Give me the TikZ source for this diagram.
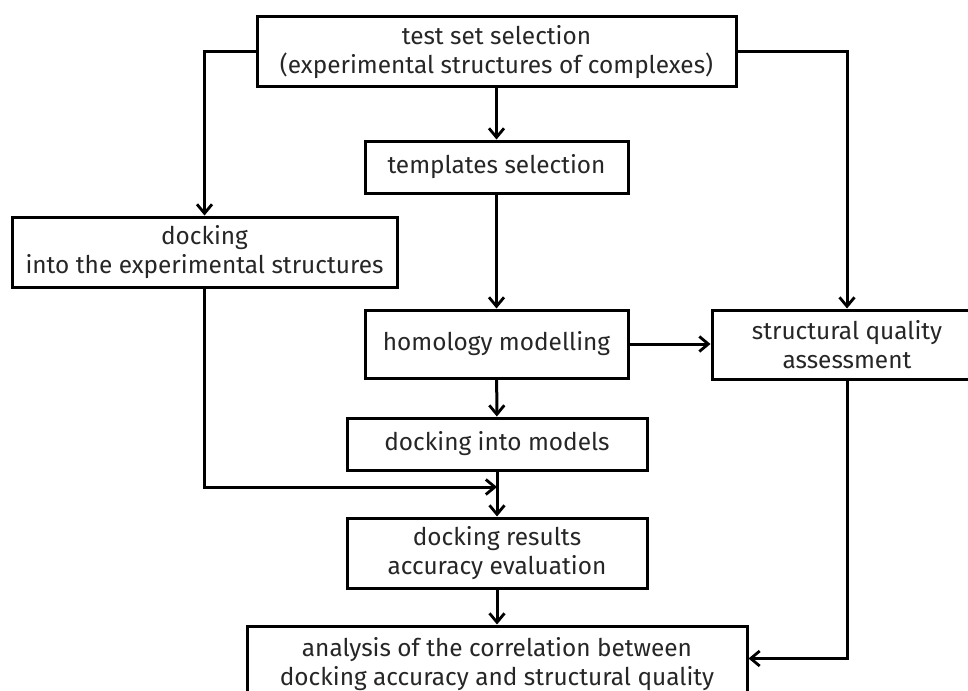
\documentclass[tikz,border=0pt]{standalone}
\usepackage{fontspec}
\setmainfont{Fira Sans}
\usetikzlibrary{arrows.meta}
\begin{document}
\begin{tikzpicture}[x=1pt,y=-1pt,
  box/.style={draw, line width=3pt, rectangle, align=center, inner sep=0pt,
    font=\fontsize{24.4}{29}\selectfont, text=black!85},
  flow/.style={line width=3pt, -{Straight Barb[length=9pt,width=15pt,line width=2.8pt]}}]
\useasboundingbox (0,0) rectangle (968,690);
\begin{scope}
\clip (0,0) rectangle (968,690);
\node[box, minimum width=479pt, minimum height=70pt] (top) at (496.5,52)
  {test set selection\\(experimental structures of complexes)};
\node[box, minimum width=263pt, minimum height=52pt] (tmpl) at (496.5,167)
  {templates selection};
\node[box, minimum width=385pt, minimum height=70pt] (dexp) at (204.5,252)
  {docking\\into the experimental structures};
\node[box, minimum width=263pt, minimum height=68pt] (hom) at (496.5,344)
  {homology modelling};
\node[box, minimum width=270pt, minimum height=69pt] (sq) at (847,344.5)
  {structural quality\\assessment};
\node[box, minimum width=300pt, minimum height=52pt] (dm) at (497,444)
  {docking into models};
\node[box, minimum width=300pt, minimum height=70pt] (dr) at (497,553)
  {docking results\\accuracy evaluation};
\node[box, minimum width=500pt, minimum height=76pt] (an) at (497,664)
  {analysis of the correlation between\\docking accuracy and structural quality};
\end{scope}
\coordinate (merge) at (497,487);
\coordinate (anin) at ([yshift=-34pt]an.north east);
\draw[flow] (top) -- (tmpl);
\draw[flow] (tmpl) -- (hom);
\draw[flow] (top.west) -| (dexp.north);
\draw[flow] (top.east) -| (sq.north);
\draw[flow] (hom.east) -- (hom.east -| sq.west);
\draw[flow] (hom) -- (dm);
\draw[flow] (dm) -- (dr);
\draw[flow] (dexp.south) |- (merge);
\draw[flow] (dr) -- (an);
\draw[flow] (sq.south) |- (anin);
\end{tikzpicture}
\end{document}
